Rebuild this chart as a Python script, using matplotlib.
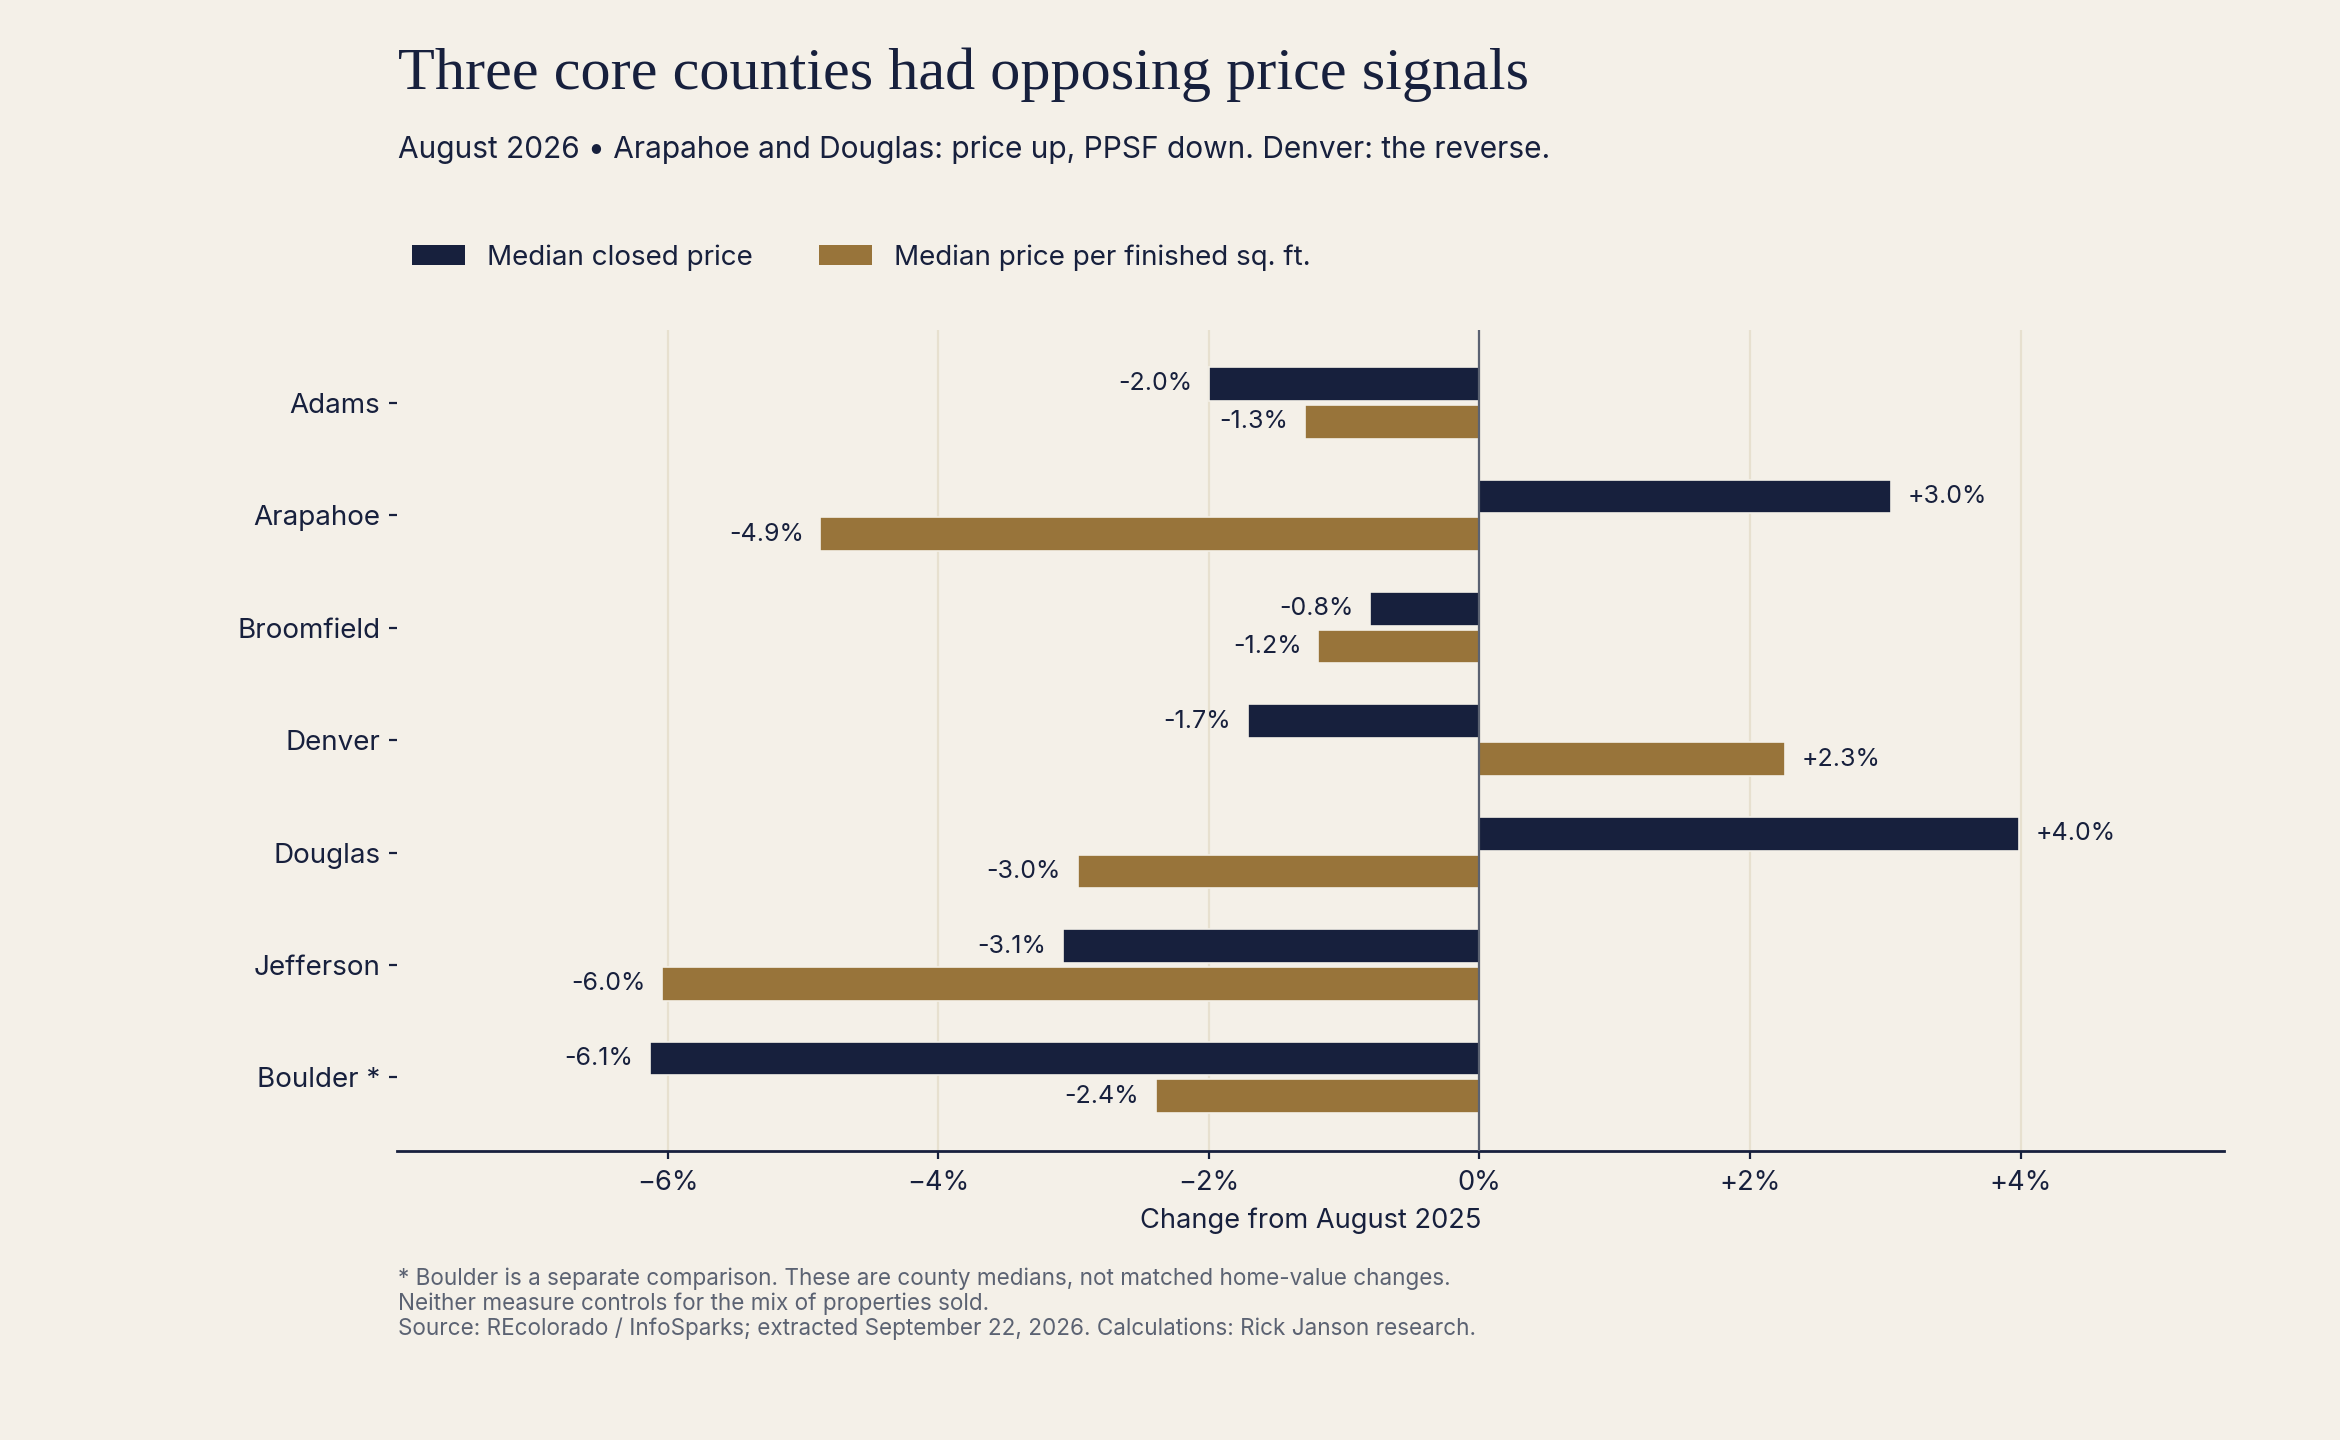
import numpy as np
import matplotlib.pyplot as plt
from matplotlib.patches import Patch

# data (% change from August 2025)
counties = ["Adams", "Arapahoe", "Broomfield", "Denver", "Douglas", "Jefferson", "Boulder *"]
closed_price = [-2.0, 3.04, -0.81, -1.71, 3.99, -3.08, -6.13]
price_per_sqft = [-1.29, -4.87, -1.19, 2.26, -2.97, -6.04, -2.39]
xticks = [-6, -4, -2, 0, 2, 4]
xtick_labels = ["\u22126%", "\u22124%", "\u22122%", "0%", "+2%", "+4%"]

BG = "#F4F0E8"
NAVY = "#17203D"
GOLD = "#98743A"
GRID = "#E7E0CF"
GREY = "#5B6272"

plt.rcParams["font.family"] = ["Inter", "DejaVu Sans"]
plt.rcParams["text.color"] = NAVY

fig = plt.figure(figsize=(11.7, 7.2), dpi=200, facecolor=BG)
ax = fig.add_axes([0.1696, 0.201, 0.7807, 0.570], facecolor=BG)

y = np.arange(len(counties))
h = 0.30
off = 0.168

b1 = ax.barh(y - off, closed_price, height=h, color=NAVY, edgecolor=BG, linewidth=0.6, zorder=3)
b2 = ax.barh(y + off, price_per_sqft, height=h, color=GOLD, edgecolor=BG, linewidth=0.6, zorder=3)

fmt = lambda v: f"{v:+.1f}%"
ax.bar_label(b1, labels=[fmt(v) for v in closed_price], padding=6, fontsize=9, color=NAVY)
ax.bar_label(b2, labels=[fmt(v) for v in price_per_sqft], padding=6, fontsize=9, color=NAVY)

ax.axvline(0, color=GREY, linewidth=0.8, zorder=4)

ax.set_xlim(-8, 5.5)
ax.set_ylim(len(counties) - 0.35, -0.65)
ax.set_yticks(y)
ax.set_yticklabels(counties, fontsize=10)
ax.set_xticks(xticks)
ax.set_xticklabels(xtick_labels, fontsize=9.8)
ax.tick_params(axis="y", length=3.0, width=0.8, color=NAVY, pad=3, labelcolor=NAVY)
ax.tick_params(axis="x", length=3, width=0.8, color=NAVY, pad=4, labelcolor=NAVY)

ax.grid(axis="x", color=GRID, linewidth=0.8, zorder=0)
ax.set_axisbelow(True)
for s in ["top", "right", "left"]:
    ax.spines[s].set_visible(False)
ax.spines["bottom"].set_color(NAVY)
ax.spines["bottom"].set_linewidth(1.0)

ax.set_xlabel("Change from August 2025", fontsize=9.8, color=NAVY, labelpad=4)

fig.text(0.170, 0.938, "Three core counties had opposing price signals",
         family=["Liberation Serif", "DejaVu Serif"], fontsize=21.7, color=NAVY, va="baseline")
fig.text(0.170, 0.890, "August 2026 \u2022 Arapahoe and Douglas: price up, PPSF down. Denver: the reverse.",
         fontsize=10.75, color=NAVY, va="baseline")

handles = [Patch(facecolor=NAVY, label="Median closed price"),
           Patch(facecolor=GOLD, label="Median price per finished sq. ft.")]
fig.legend(handles=handles, loc="center left", bbox_to_anchor=(0.176, 0.821), ncol=2,
           frameon=False, fontsize=10, handlelength=1.9, handleheight=0.75,
           handletextpad=0.8, columnspacing=2.4, borderpad=0, borderaxespad=0)

notes = ("* Boulder is a separate comparison. These are county medians, not matched home-value changes.\n"
         "Neither measure controls for the mix of properties sold.\n"
         "Source: REcolorado / InfoSparks; extracted September 22, 2026. Calculations: Rick Janson research.")
fig.text(0.170, 0.120, notes, fontsize=8.1, color=GREY, va="top", linespacing=1.15)

fig.savefig("out.png", dpi=200, facecolor=BG)
